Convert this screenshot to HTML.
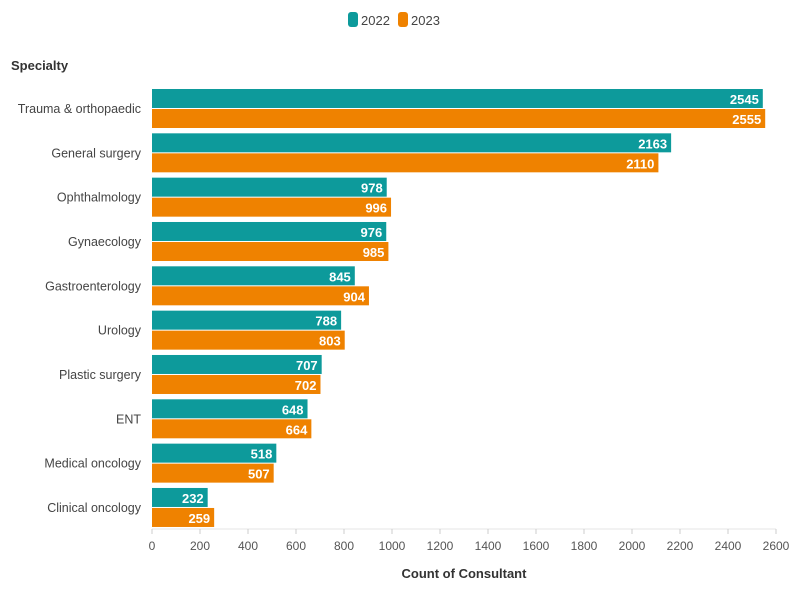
<!DOCTYPE html>
<html><head><meta charset="utf-8">
<style>
body{margin:0;background:#fff;font-family:"Liberation Sans",sans-serif;}
svg text{font-family:"Liberation Sans",sans-serif;}
</style></head>
<body>
<svg width="791" height="600" viewBox="0 0 791 600">
<g id="legend">
  <rect x="348" y="12" width="10" height="15" rx="3" fill="#0d9a9b"/>
  <text x="361" y="25" font-size="13" fill="#444">2022</text>
  <rect x="398" y="12" width="10" height="15" rx="3" fill="#ef8200"/>
  <text x="411" y="25" font-size="13" fill="#444">2023</text>
</g>
<text x="11" y="70" font-size="13" font-weight="bold" fill="#333">Specialty</text>
<line x1="152" y1="529" x2="776" y2="529" stroke="#e4e4e4"/>
<g id="ticks"></g>
<g id="bars"></g>
<text x="464" y="578" font-size="13" font-weight="bold" fill="#333" text-anchor="middle">Count of Consultant</text>
</svg>
<script>
const categories=["Trauma & orthopaedic","General surgery","Ophthalmology","Gynaecology","Gastroenterology","Urology","Plastic surgery","ENT","Medical oncology","Clinical oncology"];
const values2022=[2545,2163,978,976,845,788,707,648,518,232];
const values2023=[2555,2110,996,985,904,803,702,664,507,259];
const tickValues=[0,200,400,600,800,1000,1200,1400,1600,1800,2000,2200,2400,2600];
const NS="http://www.w3.org/2000/svg";
const x0=152,x1=776,maxV=2600;
function xScale(v){return x0+(x1-x0)*v/maxV;}
function yBand(i){return 89+i*44.33;}
function mk(tag,attrs,parent){const e=document.createElementNS(NS,tag);for(const k in attrs)e.setAttribute(k,attrs[k]);parent.appendChild(e);return e;}
const tg=document.getElementById('ticks');
tickValues.forEach(t=>{
  const l=mk('line',{x1:xScale(t),x2:xScale(t),y1:529,y2:534,stroke:'#ccc'},tg);
  
  
  const tx=mk('text',{x:xScale(t),y:550,'font-size':12,fill:'#555','text-anchor':'middle'},tg);
  tx.textContent=t;
  
  
});
const bg=document.getElementById('bars');
categories.forEach((c,i)=>{
  const y=yBand(i);
  const lab=mk('text',{x:141,y:y+24,'font-size':12.5,fill:'#444','text-anchor':'end'},bg);
  lab.textContent=c;
  
  
  [[values2022,'#0d9a9b',0,'bar-2022'],[values2023,'#ef8200',20,'bar-2023']].forEach(([arr,col,off,name])=>{
    const v=arr[i];
    const r=mk('rect',{x:x0,y:y+off,width:xScale(v)-x0,height:19,fill:col},bg);
    
    
    const t=mk('text',{x:xScale(v)-4,y:y+off+15,'font-size':13,'font-weight':'bold',fill:'#fff','text-anchor':'end'},bg);
    t.textContent=v;
    
    
  });
});
</script>
</body></html>
